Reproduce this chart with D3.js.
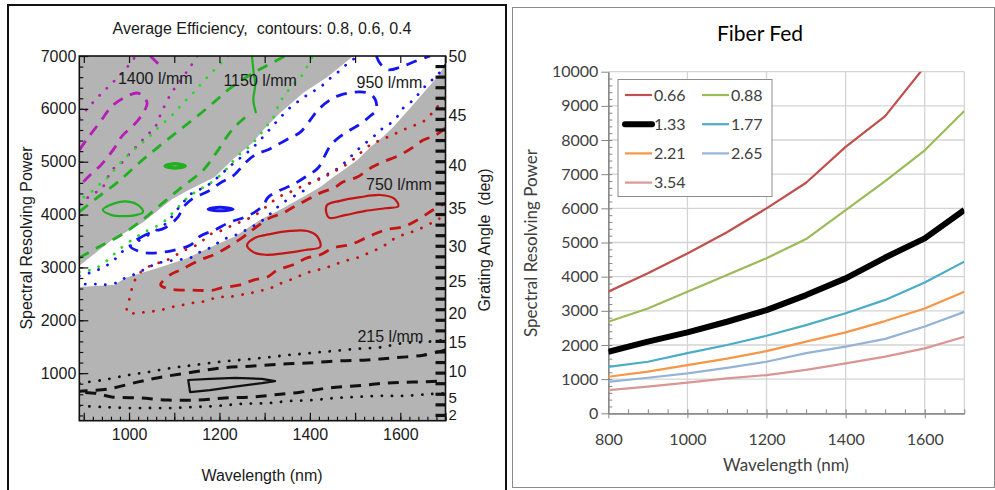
<!DOCTYPE html>
<html>
<head>
<meta charset="utf-8">
<script src="https://cdn.jsdelivr.net/npm/d3@7"></script>
<style>
  body { margin: 0; background: #fff; }
  svg { display: block; }
  .lp text { font-family: "Liberation Sans", Arial, sans-serif; fill: #1a1a1a; }
  .rp text { font-family: Lato, "Open Sans", sans-serif; fill: #404040; }
</style>
</head>
<body>
<svg id="chart" width="995" height="490"></svg>
<script>
// ---------------- left panel data: [wavelength nm, resolving power] ----------------
var whiteBand = [[890,3030],[962,3520],[1029,3840],[1095,4290],[1131,4460],[1190,4710],[1228,5030],[1272,5350],[1301,5640],[1334,5920],[1385,6300],[1438,6600],[1496,7000],[1700,7000],[1700,6850],[1682,6600],[1660,6390],[1638,6170],[1616,5960],[1585,5660],[1562,5470],[1534,5280],[1505,5030],[1474,4840],[1452,4710],[1423,4520],[1385,4330],[1334,4090],[1290,3900],[1235,3590],[1190,3420],[1124,3160],[1064,2990],[991,2800],[969,2670],[890,2630]];

// 1400 l/mm
var magentaDash = [[890,5220],[909,5450],[936,5750],[962,6050],[991,6220],[1018,6300],[1031,6240],[1040,6110],[1035,5980],[1024,5830],[1009,5680],[985,5490],[971,5300],[953,5090],[936,4920],[914,4750],[890,4540]];
var magentaDashTop = [[1047,7000],[1060,6890],[1069,6810]];
var magentaDotOuter = [[890,5830],[909,6020],[931,6220],[953,6410],[976,6600],[998,6810],[1013,6980]];
var magentaDotInner = [[1151,7000],[1135,6790],[1113,6530],[1091,6260],[1069,5880],[1058,5660],[1040,5500],[1020,5320],[1002,5160],[985,4990],[962,4840],[942,4520],[925,4410],[907,4310],[890,4180]];

// 1150 l/mm
var greenSolidA = [[942,4090],[958,4180],[980,4240],[1002,4240],[1020,4180],[1031,4050],[1015,3990],[991,3970],[962,3990]];
var greenSolidB = [[1080,4920],[1102,4960],[1124,4920],[1102,4880]];
var greenSolidC = [[1272,7000],[1275,6730],[1279,6450],[1275,6170],[1281,5920]];
var greenDashUpper = [[890,4050],[925,4290],[976,4620],[1024,4990],[1075,5350],[1124,5680],[1175,6030],[1224,6390],[1279,6700],[1312,6850],[1345,7000]];
var greenDashLower = [[890,3180],[929,3370],[976,3580],[1024,3860],[1069,4180],[1117,4520],[1164,4840],[1197,5220],[1224,5560],[1250,5790],[1272,5920]];
var greenDotUpper = [[1219,7000],[1206,6890],[1173,6600],[1153,6410],[1135,6240],[1117,6090],[1102,5940],[1084,5790],[1064,5640],[1047,5490],[1024,5320],[991,5070],[973,4900],[954,4710],[936,4580],[914,4410],[890,4280]];
var greenDotLower = [[890,2910],[914,2950],[936,3030],[958,3180],[980,3350],[1013,3560],[1035,3670],[1073,3840],[1102,4080],[1131,4330],[1157,4480],[1184,4620],[1213,4840],[1228,4990],[1246,5150],[1263,5260],[1283,5440],[1301,5640],[1319,5830],[1334,6130],[1356,6390],[1383,6640],[1401,6920],[1407,7000]];

// 950 l/mm
var blueSolid = [[1175,4100],[1201,4140],[1230,4100],[1201,4070]];
var blueDashLoop = [[1002,3410],[1024,3560],[1051,3670],[1080,3750],[1108,3950],[1120,4140],[1142,4310],[1173,4430],[1206,4620],[1230,4730],[1261,5010],[1283,5150],[1306,5220],[1328,5320],[1356,5450],[1379,5560],[1401,5790],[1418,5980],[1445,6170],[1467,6260],[1511,6320],[1534,6280],[1545,6170],[1547,5980],[1534,5870],[1511,5710],[1489,5600],[1463,5450],[1445,5300],[1434,5130],[1418,4880],[1390,4710],[1361,4560],[1334,4460],[1308,4330],[1297,4180],[1279,4050],[1250,3930],[1224,3860],[1190,3710],[1157,3590],[1135,3420],[1091,3310],[1047,3270],[1020,3310]];
var blueDashTop = [[1547,7000],[1556,6850],[1573,6740],[1600,6790],[1633,6900],[1666,7000]];
var blueDotUpper = [[890,2840],[918,2910],[940,2990],[962,3100],[984,3290],[1013,3460],[1046,3630],[1080,3820],[1113,4160],[1140,4410],[1168,4520],[1197,4710],[1224,4920],[1246,5070],[1268,5220],[1290,5410],[1312,5620],[1334,5830],[1356,6020],[1379,6170],[1401,6300],[1423,6410],[1441,6550],[1463,6700],[1485,6870],[1507,7000]];
var blueDotLower = [[1700,6830],[1678,6600],[1662,6490],[1644,6320],[1629,6170],[1607,6020],[1593,5850],[1573,5690],[1556,5600],[1538,5450],[1518,5320],[1500,5180],[1483,5030],[1463,4880],[1445,4790],[1423,4690],[1401,4600],[1383,4430],[1356,4310],[1334,4180],[1317,4050],[1297,3900],[1268,3750],[1235,3610],[1206,3520],[1184,3390],[1157,3290],[1135,3180],[1102,3140],[1064,3080],[1040,2990],[1018,2890],[991,2800],[973,2710],[942,2670],[918,2690],[890,2670]];

// 750 l/mm
var redSolidA = [[1438,4180],[1467,4260],[1511,4330],[1556,4370],[1585,4310],[1596,4160],[1567,4120],[1523,4070],[1478,3990],[1443,3940],[1436,4050]];
var redSolidB = [[1261,3420],[1279,3560],[1312,3630],[1356,3690],[1394,3690],[1416,3590],[1423,3390],[1390,3330],[1345,3270],[1301,3240],[1275,3290]];
var redDash = [[1700,5640],[1678,5500],[1651,5410],[1629,5280],[1600,5130],[1560,4990],[1538,4900],[1505,4710],[1474,4620],[1452,4500],[1423,4410],[1394,4280],[1363,4140],[1341,4030],[1312,3940],[1279,3750],[1250,3560],[1195,3270],[1157,3140],[1113,2950],[1091,2860],[1070,2670],[1091,2590],[1141,2570],[1186,2570],[1202,2610],[1246,2670],[1275,2760],[1306,2820],[1328,2950],[1363,3050],[1394,3180],[1423,3240],[1452,3370],[1489,3430],[1529,3580],[1567,3710],[1607,3770],[1638,3900],[1673,4090],[1700,4220]];
var redDot = [[1700,6170],[1682,6040],[1666,5880],[1649,5750],[1622,5660],[1596,5560],[1573,5470],[1551,5390],[1534,5320],[1511,5160],[1494,5030],[1472,4900],[1449,4790],[1427,4690],[1401,4600],[1379,4520],[1352,4410],[1330,4330],[1308,4180],[1279,3990],[1246,3860],[1219,3760],[1197,3670],[1175,3610],[1157,3460],[1124,3330],[1084,3140],[1047,3030],[1020,2860],[1009,2670],[1002,2440],[996,2140],[1018,2140],[1042,2160],[1069,2190],[1095,2250],[1120,2290],[1142,2330],[1168,2360],[1197,2440],[1219,2440],[1246,2480],[1272,2520],[1297,2570],[1319,2630],[1341,2720],[1368,2800],[1390,2890],[1416,2950],[1441,3010],[1463,3080],[1485,3140],[1511,3200],[1534,3290],[1560,3390],[1582,3520],[1604,3610],[1638,3710],[1673,3860],[1700,3990]];

// 215 l/mm
var blackSolid = [[1131,870],[1179,890],[1235,910],[1294,890],[1323,850],[1294,810],[1230,740],[1179,680],[1135,640]];
var blackDash = [[1700,1440],[1651,1340],[1585,1290],[1527,1250],[1461,1230],[1394,1190],[1334,1170],[1268,1130],[1206,1100],[1142,1020],[1075,930],[1018,830],[954,700],[885,650],[925,620],[962,550],[1024,530],[1086,490],[1153,490],[1213,530],[1272,550],[1323,590],[1379,640],[1441,720],[1505,760],[1567,810],[1629,830],[1700,850]];
var blackDotUpper = [[890,810],[942,870],[996,960],[1042,1020],[1095,1100],[1142,1150],[1195,1210],[1246,1250],[1297,1290],[1350,1340],[1401,1380],[1452,1420],[1505,1460],[1556,1490],[1607,1570],[1655,1590],[1700,1630]];
var blackDotLower = [[890,380],[942,360],[996,340],[1047,340],[1095,340],[1146,360],[1197,380],[1250,420],[1301,430],[1352,470],[1405,490],[1456,530],[1505,550],[1556,570],[1607,570],[1660,600],[1700,620]];

var resTicks = [1000,2000,3000,4000,5000,6000,7000];
var wlTicksLeft = [1000,1200,1400,1600];
var angleTicks = [2,5,10,15,20,25,30,35,40,45,50];
var gratingK = 5870;   // resolving power = K * tan(angle)

var gratingLabels = [
  {text: "1400 l/mm", wl: 1058, res: 6580},
  {text: "1150 l/mm", wl: 1290, res: 6545},
  {text: "950 l/mm",  wl: 1576, res: 6510},
  {text: "750 l/mm",  wl: 1597, res: 4580},
  {text: "215 l/mm",  wl: 1578, res: 1700}
];

// ---------------- right panel data ----------------
var fiberWl = [800,900,1000,1100,1200,1300,1400,1500,1600,1700];
var fiberNames = ["0.66","0.88","1.33","1.77","2.21","2.65","3.54"];
var fiber066 = [3560,4100,4680,5300,6000,6750,7800,8700,10150];
var fiber088 = [2680,3070,3560,4050,4540,5100,5950,6800,7700,8850];
var fiber133 = [1800,2100,2370,2680,3020,3460,3950,4560,5120,5950];
var fiber177 = [1360,1510,1760,2000,2270,2580,2930,3320,3830,4440];
var fiber221 = [1070,1220,1410,1600,1820,2100,2370,2700,3070,3560];
var fiber265 = [920,1040,1170,1330,1510,1760,1950,2180,2540,2970];
var fiber354 = [680,780,900,1020,1120,1270,1460,1660,1900,2240];
var fiberColors = ["#c0504d","#9bbb59","#000000","#4bacc6","#f79646","#95b3d7","#da9694"];

var svg = d3.select("#chart");
var plain = d3.format("d");

// ======================= left panel =======================
var L = {left: 79.3, right: 445.5, top: 56, bottom: 420.7};
var xL = d3.scaleLinear().domain([890, 1700]).range([L.left, L.right]);
var yL = d3.scaleLinear().domain([100, 7000]).range([L.bottom, L.top]);

var lp = svg.append("g").attr("class", "lp");

lp.append("rect")
  .attr("x", 8).attr("y", 5).attr("width", 498).attr("height", 520)
  .attr("fill", "none").attr("stroke", "#111").attr("stroke-width", 2);

lp.append("defs").append("clipPath").attr("id", "clipL")
  .append("rect")
  .attr("x", L.left).attr("y", L.top)
  .attr("width", L.right - L.left).attr("height", L.bottom - L.top);

// grey background, white high-efficiency band
lp.append("rect")
  .attr("x", L.left).attr("y", L.top)
  .attr("width", L.right - L.left).attr("height", L.bottom - L.top)
  .attr("fill", "#b4b4b4");

var polyLine = d3.line().x(function (d) { return xL(d[0]); }).y(function (d) { return yL(d[1]); });
lp.append("path")
  .attr("clip-path", "url(#clipL)")
  .attr("d", polyLine(whiteBand) + "Z")
  .attr("fill", "#fff");

// contour lines
var lineStyles = {
  solid: {w: 2.2, dash: null, cap: "butt"},
  dash:  {w: 2.8, dash: "11,8", cap: "butt"},
  dot:   {w: 2.8, dash: "0.1,10", cap: "round"}
};

var MAG = "#b51fb5", GRN = "#20b020", GRN2 = "#2ad82a", BLU = "#1515f0", RED = "#c41414", BLK = "#111";

var contours = [
  {pts: magentaDash, color: MAG, style: "dash"},
  {pts: magentaDashTop, color: MAG, style: "dash"},
  {pts: magentaDotOuter, color: MAG, style: "dot"},
  {pts: magentaDotInner, color: MAG, style: "dot"},
  {pts: greenSolidA, color: GRN, style: "solid", closed: true},
  {pts: greenSolidB, color: GRN, style: "solid", closed: true, w: 3.5},
  {pts: greenSolidC, color: GRN, style: "solid"},
  {pts: greenDashUpper, color: GRN, style: "dash"},
  {pts: greenDashLower, color: GRN, style: "dash"},
  {pts: greenDotUpper, color: GRN2, style: "dot"},
  {pts: greenDotLower, color: GRN2, style: "dot"},
  {pts: blueSolid, color: BLU, style: "solid", closed: true, w: 3},
  {pts: blueDashLoop, color: BLU, style: "dash", closed: true},
  {pts: blueDashTop, color: BLU, style: "dash"},
  {pts: blueDotUpper, color: BLU, style: "dot"},
  {pts: blueDotLower, color: BLU, style: "dot"},
  {pts: redSolidA, color: RED, style: "solid", closed: true},
  {pts: redSolidB, color: RED, style: "solid", closed: true},
  {pts: redDash, color: RED, style: "dash"},
  {pts: redDot, color: RED, style: "dot"},
  {pts: blackSolid, color: BLK, style: "solid", closed: true, linear: true},
  {pts: blackDash, color: BLK, style: "dash", w: 3},
  {pts: blackDotUpper, color: BLK, style: "dot"},
  {pts: blackDotLower, color: BLK, style: "dot"}
];

var contourLayer = lp.append("g").attr("clip-path", "url(#clipL)");
contours.forEach(function (c) {
  var curve = c.linear ? (c.closed ? d3.curveLinearClosed : d3.curveLinear)
                       : (c.closed ? d3.curveCatmullRomClosed : d3.curveCatmullRom);
  var gen = d3.line().x(function (d) { return xL(d[0]); }).y(function (d) { return yL(d[1]); }).curve(curve);
  var st = lineStyles[c.style];
  contourLayer.append("path")
    .attr("d", gen(c.pts))
    .attr("fill", "none")
    .attr("stroke", c.color)
    .attr("stroke-width", c.w || st.w)
    .attr("stroke-dasharray", st.dash)
    .attr("stroke-linecap", st.cap)
    .attr("stroke-linejoin", "round");
});

// grating labels
lp.selectAll(".glabel")
  .data(gratingLabels)
  .enter().append("text")
  .attr("class", "glabel")
  .attr("x", function (d) { return xL(d.wl); })
  .attr("y", function (d) { return yL(d.res); })
  .attr("dy", "0.36em")
  .attr("text-anchor", "middle")
  .attr("font-size", 16)
  .text(function (d) { return d.text; });

// axes
function styleAxis(g) {
  g.select(".domain").remove();
  g.selectAll(".tick line").attr("stroke", "#111").attr("stroke-width", 1.2);
  g.attr("font-family", null).attr("font-size", 16);
}

lp.append("g")
  .attr("transform", "translate(0," + L.bottom + ")")
  .call(d3.axisBottom(xL).tickValues(d3.range(900, 1701, 20)).tickSize(-4).tickFormat(""))
  .call(styleAxis);
lp.append("g")
  .attr("transform", "translate(0," + L.bottom + ")")
  .call(d3.axisBottom(xL).tickValues(d3.range(900, 1701, 100)).tickSize(-8).tickPadding(8)
    .tickFormat(function (d) { return wlTicksLeft.indexOf(d) >= 0 ? plain(d) : ""; }))
  .call(styleAxis);
lp.append("g")
  .attr("transform", "translate(0," + L.top + ")")
  .call(d3.axisTop(xL).tickValues(d3.range(900, 1701, 100)).tickSize(-7).tickFormat(""))
  .call(styleAxis);
lp.append("g")
  .attr("transform", "translate(" + L.left + ",0)")
  .call(d3.axisLeft(yL).tickValues(d3.range(200, 7000, 200)).tickSize(-4).tickFormat(""))
  .call(styleAxis);
lp.append("g")
  .attr("transform", "translate(" + L.left + ",0)")
  .call(d3.axisLeft(yL).tickValues(resTicks).tickSize(-9).tickPadding(3).tickFormat(plain))
  .call(styleAxis);

// thick marks along the right edge
lp.append("g").selectAll("line")
  .data(d3.range(200, 7000, 200))
  .enter().append("line")
  .attr("x1", L.right - 10).attr("x2", L.right)
  .attr("y1", function (d) { return yL(d); })
  .attr("y2", function (d) { return yL(d); })
  .attr("stroke", "#111").attr("stroke-width", 3.2);

// right angle axis
function angleY(a) { return yL(gratingK * Math.tan(a * Math.PI / 180)); }
lp.append("g").selectAll("text")
  .data(angleTicks)
  .enter().append("text")
  .attr("x", L.right + 3)
  .attr("y", function (d) { return d === 5 ? angleY(d) - 1.5 : angleY(d); })
  .attr("dy", "0.35em")
  .attr("font-size", function (d) { return d <= 5 ? 15 : 16; })
  .text(function (d) { return d; });

// plot frame
lp.append("rect")
  .attr("x", L.left).attr("y", L.top)
  .attr("width", L.right - L.left).attr("height", L.bottom - L.top)
  .attr("fill", "none").attr("stroke", "#111").attr("stroke-width", 1.6);

lp.append("text")
  .attr("x", 262).attr("y", 34)
  .attr("text-anchor", "middle").attr("font-size", 16)
  .style("white-space", "pre")
  .text("Average Efficiency,  contours: 0.8, 0.6, 0.4");
lp.append("text")
  .attr("x", 262).attr("y", 481)
  .attr("text-anchor", "middle").attr("font-size", 16)
  .text("Wavelength (nm)");
lp.append("text")
  .attr("transform", "translate(32,238) rotate(-90)")
  .attr("text-anchor", "middle").attr("font-size", 16)
  .text("Spectral Resolving Power");
lp.append("text")
  .attr("transform", "translate(490,240) rotate(-90)")
  .attr("text-anchor", "middle").attr("font-size", 16)
  .style("white-space", "pre")
  .text("Grating Angle  (deg)");

// ======================= right panel =======================
var R = {left: 608.3, right: 964.3, top: 71.7, bottom: 413.3};
var xR = d3.scaleLinear().domain([800, 1700]).range([R.left, R.right]);
var yR = d3.scaleLinear().domain([0, 10000]).range([R.bottom, R.top]);

var rp = svg.append("g").attr("class", "rp");
rp.append("rect")
  .attr("x", 512.5).attr("y", 7.5).attr("width", 482).attr("height", 480)
  .attr("fill", "#fff").attr("stroke", "#8a8a8a").attr("stroke-width", 1);

rp.append("defs").append("clipPath").attr("id", "clipR")
  .append("rect")
  .attr("x", R.left).attr("y", R.top)
  .attr("width", R.right - R.left).attr("height", R.bottom - R.top);

// gridlines
rp.append("g").selectAll("line")
  .data(d3.range(1000, 10001, 1000))
  .enter().append("line")
  .attr("x1", R.left).attr("x2", R.right)
  .attr("y1", function (d) { return yR(d); }).attr("y2", function (d) { return yR(d); })
  .attr("stroke", "#d4d4d4").attr("stroke-width", 1.3);
rp.append("g").selectAll("line")
  .data([1000, 1200, 1400, 1600, 1700])
  .enter().append("line")
  .attr("x1", function (d) { return xR(d); }).attr("x2", function (d) { return xR(d); })
  .attr("y1", R.top).attr("y2", R.bottom)
  .attr("stroke", "#d4d4d4").attr("stroke-width", 1.3);

function styleAxisR(g) {
  g.selectAll(".domain").attr("stroke", "#868686").attr("stroke-width", 1.2);
  g.selectAll(".tick line").attr("stroke", "#868686");
  g.attr("font-family", null).attr("font-size", 16);
}
rp.append("g")
  .attr("transform", "translate(" + R.left + ",0)")
  .call(d3.axisLeft(yR).tickValues(d3.range(200, 10000, 200)).tickSize(-4).tickSizeOuter(0).tickFormat(""))
  .call(styleAxisR);
rp.append("g")
  .attr("transform", "translate(" + R.left + ",0)")
  .call(d3.axisLeft(yR).tickValues(d3.range(0, 10001, 1000)).tickSize(7).tickSizeOuter(0).tickPadding(3).tickFormat(plain))
  .call(styleAxisR);
rp.append("g")
  .attr("transform", "translate(0," + R.bottom + ")")
  .call(d3.axisBottom(xR).tickValues(d3.range(850, 1701, 50)).tickSize(-4).tickSizeOuter(0).tickFormat(""))
  .call(styleAxisR);
rp.append("g")
  .attr("transform", "translate(0," + R.bottom + ")")
  .call(d3.axisBottom(xR).tickValues([800, 1000, 1200, 1400, 1600]).tickSize(5).tickSizeOuter(0).tickPadding(15).tickFormat(plain))
  .call(styleAxisR);

// series
var fiberSeries = [fiber066, fiber088, fiber133, fiber177, fiber221, fiber265, fiber354];
var seriesLine = d3.line()
  .x(function (d, i) { return xR(fiberWl[i]); })
  .y(function (d) { return yR(d); });
var seriesLayer = rp.append("g").attr("clip-path", "url(#clipR)");
fiberSeries.forEach(function (vals, k) {
  seriesLayer.append("path")
    .attr("d", seriesLine(vals))
    .attr("fill", "none")
    .attr("stroke", fiberColors[k])
    .attr("stroke-width", fiberNames[k] === "1.33" ? 6 : 2.2)
    .attr("stroke-linejoin", "round");
});

// legend
var legend = rp.append("g");
legend.append("rect")
  .attr("x", 618).attr("y", 79.5).attr("width", 154).attr("height", 117)
  .attr("fill", "#fff").attr("stroke", "#8c8c8c").attr("stroke-width", 1);
var legendItems = legend.selectAll(".li")
  .data(fiberNames)
  .enter().append("g")
  .attr("class", "li")
  .attr("transform", function (d, i) {
    return "translate(" + (i % 2 === 0 ? 625 : 702) + "," + (95 + Math.floor(i / 2) * 29.2) + ")";
  });
legendItems.append("line")
  .attr("x1", 0).attr("x2", 27).attr("y1", 0).attr("y2", 0)
  .attr("stroke", function (d, i) { return fiberColors[i]; })
  .attr("stroke-width", function (d) { return d === "1.33" ? 6 : 2.2; })
  .attr("stroke-linecap", function (d) { return d === "1.33" ? "round" : "butt"; });
legendItems.append("text")
  .attr("x", 29).attr("dy", "0.36em")
  .attr("font-size", 16)
  .text(function (d) { return d; });

rp.append("text")
  .attr("x", 760).attr("y", 41)
  .attr("text-anchor", "middle").attr("font-size", 21)
  .attr("style", "fill:#000")
  .text("Fiber Fed");
rp.append("text")
  .attr("x", 786).attr("y", 471)
  .attr("text-anchor", "middle").attr("font-size", 17)
  .text("Wavelength (nm)");
rp.append("text")
  .attr("transform", "translate(537,243) rotate(-90)")
  .attr("text-anchor", "middle").attr("font-size", 17)
  .text("Spectral Resolving Power");
</script>
</body>
</html>
